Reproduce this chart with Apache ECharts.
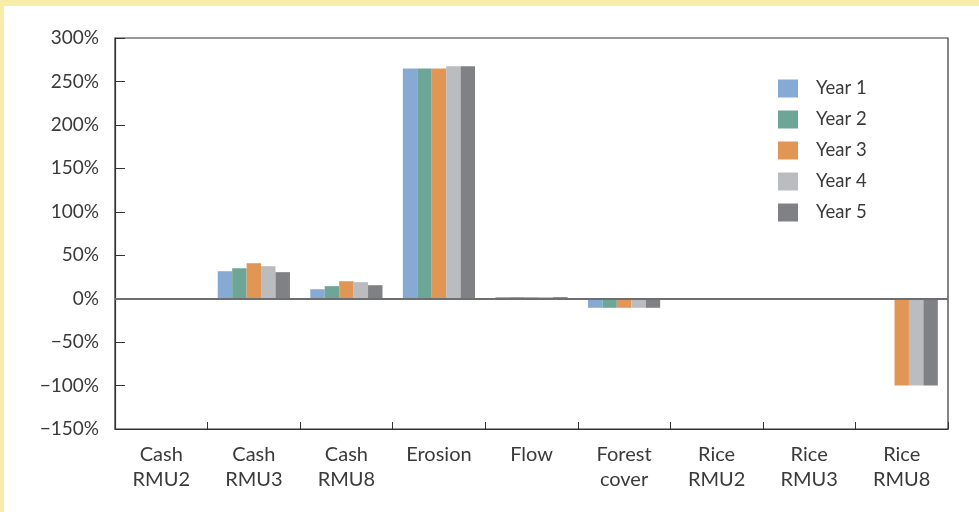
<!DOCTYPE html>
<html>
<head>
<meta charset="utf-8">
<script src="https://cdn.jsdelivr.net/npm/echarts@6/dist/echarts.min.js"></script>
<style>
  html, body { margin: 0; padding: 0; background: #ffffff; }
  #chart { width: 979px; height: 512px; }
</style>
</head>
<body>
<div id="chart"></div>
<script>
// Categories along the x axis
var categories = ['Cash\nRMU2', 'Cash\nRMU3', 'Cash\nRMU8', 'Erosion', 'Flow',
                  'Forest\ncover', 'Rice\nRMU2', 'Rice\nRMU3', 'Rice\nRMU8'];

// Percentage change per year (%)
var year1 = [0.5, 31.6, 10.9, 265, 1.8, -10.5, 0, 0, 0];
var year2 = [0.5, 35.0, 14.4, 265, 1.8, -10.5, 0, 0, 0];
var year3 = [0.6, 40.8, 20.1, 265, 1.8, -10.5, 0, 0, -100];
var year4 = [0, 37.4, 19.0, 267.5, 1.8, -10.5, 0, 0, -100];
var year5 = [0, 30.5, 15.5, 267.5, 1.8, -10.5, 0, 0, -100];

var seriesNames = ['Year 1', 'Year 2', 'Year 3', 'Year 4', 'Year 5'];
var seriesValues = [year1, year2, year3, year4, year5];
var colors = ['#87aad5', '#6da596', '#e29656', '#bbbcbf', '#808184'];

// Y axis range
var yMin = -150, yMax = 300, yStep = 50;

var FONT = 'Lato, "Open Sans", sans-serif';
var TEXT = '#3a3a3a';

var chart = echarts.init(document.getElementById('chart'), null, { renderer: 'canvas' });

var series = seriesNames.map(function (name, i) {
  var s = {
    name: name,
    type: 'bar',
    data: seriesValues[i],
    itemStyle: { color: colors[i] },
    barGap: '0%',
    barCategoryGap: '22%',
    silent: true
  };
  if (i === 0) {
    // horizontal baseline at 0%
    s.markLine = {
      silent: true,
      symbol: ['none', 'none'],
      label: { show: false },
      lineStyle: { color: '#6d6e70', width: 2, type: 'solid' },
      data: [{ yAxis: 0 }],
      z: 5
    };
  }
  return s;
});

chart.setOption({
  animation: false,
  color: colors,
  graphic: [
    { type: 'rect', shape: { x: 0, y: 0, width: 979, height: 6 }, style: { fill: '#f7eda9' }, z: -10 },
    { type: 'rect', shape: { x: 0, y: 0, width: 4, height: 512 }, style: { fill: '#f7eda9' }, z: -10 }
  ],
  grid: {
    left: 115, top: 38, right: 31, bottom: 83,
    show: true, borderColor: '#333333', borderWidth: 1.2, backgroundColor: 'transparent'
  },
  legend: {
    orient: 'vertical',
    left: 773, top: 74,
    itemWidth: 20, itemHeight: 18, itemGap: 12,
    icon: 'rect',
    selectedMode: false,
    textStyle: { fontFamily: FONT, fontSize: 18.5, lineHeight: 18, color: TEXT, padding: [0, 0, 0, 13] },
    data: seriesNames
  },
  xAxis: {
    type: 'category',
    data: categories,
    axisLine: { onZero: false, lineStyle: { color: '#333333', width: 1.2 } },
    axisTick: { show: true, inside: true, length: 7, alignWithLabel: false, lineStyle: { color: '#333333' } },
    axisLabel: {
      fontFamily: FONT, fontSize: 20, color: TEXT, margin: 13, lineHeight: 25,
      interval: 0
    }
  },
  yAxis: {
    type: 'value',
    min: yMin, max: yMax, interval: yStep,
    axisLine: { show: true, lineStyle: { color: '#333333', width: 1.2 } },
    axisTick: { show: true, inside: true, length: 10, lineStyle: { color: '#333333' } },
    splitLine: { show: false },
    axisLabel: {
      fontFamily: FONT, fontSize: 19, color: TEXT, margin: 16,
      formatter: function (v) { return (v < 0 ? '\u2212' + Math.abs(v) : v) + '%'; }
    }
  },
  series: series
});
</script>
</body>
</html>
